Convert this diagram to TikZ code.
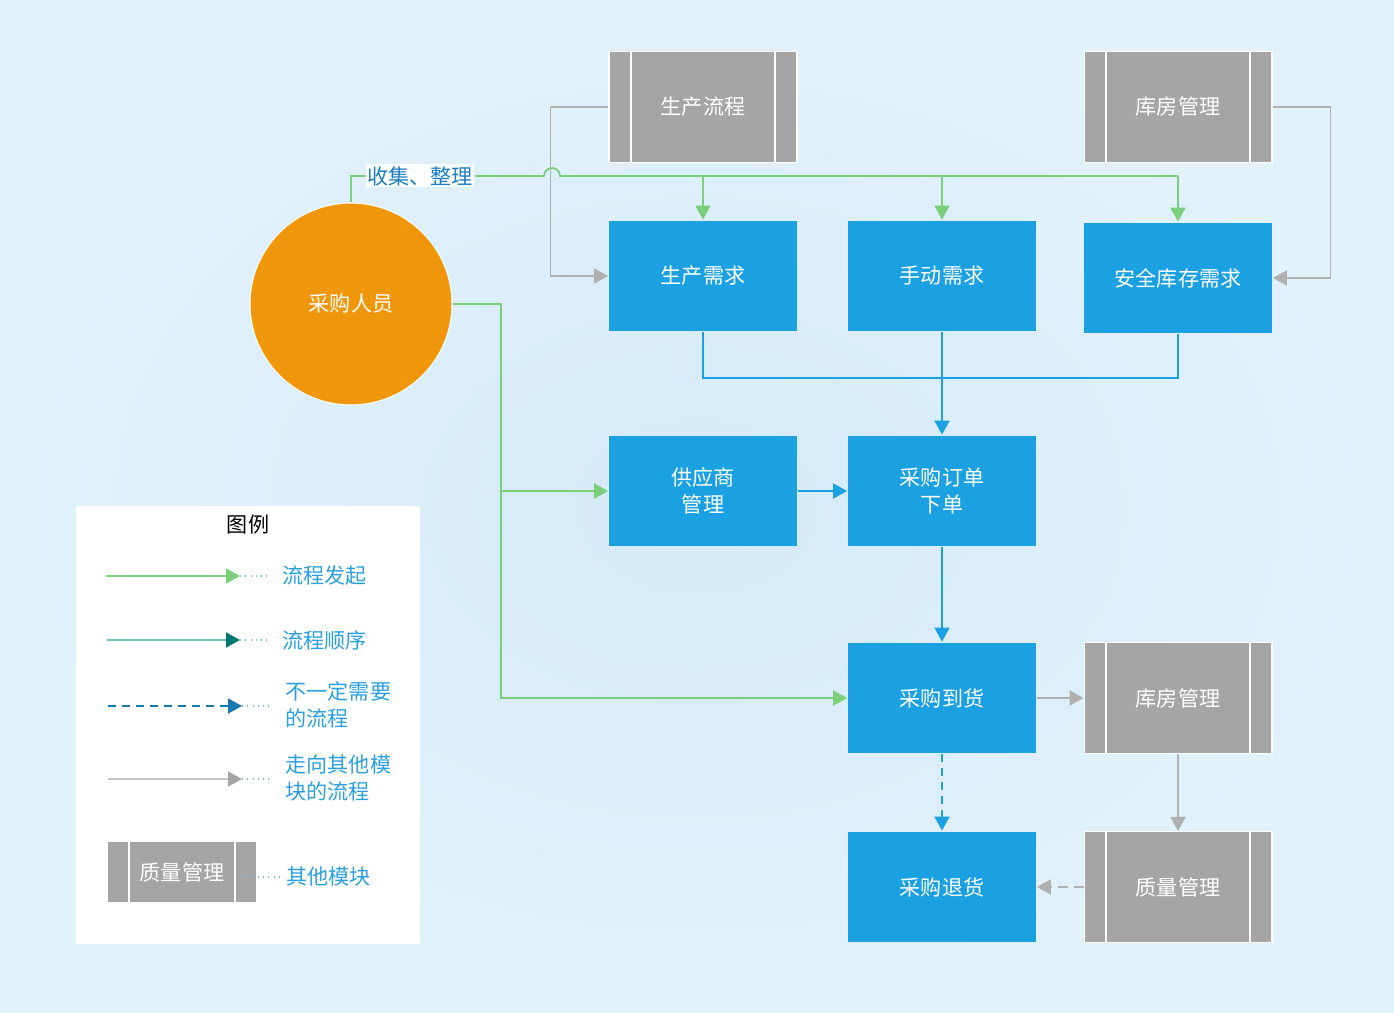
\documentclass[tikz,border=0pt]{standalone}
\usepackage{fontspec}
\setmainfont{Noto Sans CJK SC}
\usetikzlibrary{arrows.meta}
\usetikzlibrary{positioning}

\definecolor{bgin}{RGB}{212,233,247}
\definecolor{bgout}{RGB}{226,242,251}
\definecolor{boxblue}{RGB}{27,161,226}
\definecolor{modgray}{RGB}{165,165,165}
\definecolor{buyorange}{RGB}{240,150,10}
\definecolor{initgreen}{RGB}{122,208,122}
\definecolor{linegray}{RGB}{176,176,176}
\definecolor{labelblue}{RGB}{26,127,191}
\definecolor{legblue}{RGB}{42,160,224}
\definecolor{tealline}{RGB}{120,190,184}
\definecolor{tealtip}{RGB}{0,122,112}
\definecolor{dashblue}{RGB}{26,120,176}

\begin{document}
\begin{tikzpicture}[x=0.02cm, y=-0.02cm, line width=1pt,
    font=\fontsize{12}{15.5}\selectfont,
    >={Triangle[length=0.28cm,width=0.3cm]},
    procbox/.style={rectangle, fill=boxblue, text=white, align=center,
        minimum width=3.76cm, minimum height=2.22cm},
    modbox/.style={procbox, fill=modgray, draw=white, line width=0.6pt,
        path picture={\draw[white, line width=0.8pt]
            ([xshift=0.44cm]path picture bounding box.north west) -- ([xshift=0.44cm]path picture bounding box.south west)
            ([xshift=-0.44cm]path picture bounding box.north east) -- ([xshift=-0.44cm]path picture bounding box.south east);}},
    initline/.style={draw=initgreen, line width=1pt},
    seqline/.style={draw=boxblue, line width=1pt},
    optline/.style={draw=boxblue, line width=1pt, dash pattern=on 0.16cm off 0.12cm},
    modline/.style={draw=linegray, line width=1pt},
    legdot/.style={draw=legblue!70, line width=0.6pt, dash pattern=on 0.6pt off 2.4pt},
    legtext/.style={anchor=west, align=left, text=legblue}]

    \useasboundingbox (0,0) rectangle (1394,1013);
    \shade[inner color=bgin, outer color=bgout] (0,0) rectangle (1394,1013);

    % modules and steps
    \node (buyer) at (351,304) [circle, fill=buyorange, draw=white, line width=0.6pt, text=white, minimum size=4.04cm] {采购人员};
    \node (prodflow) at (703,107) [modbox] {生产流程};
    \node (storeA) at (1178,107) [modbox] {库房管理};
    \node (prodreq) at (703,276) [procbox] {生产需求};
    \node (manreq) at (942,276) [procbox] {手动需求};
    \node (safereq) at (1178,278) [procbox] {安全库存需求};
    \node (supplier) at (703,491) [procbox] {供应商\\管理};
    \node (order) at (942,491) [procbox] {采购订单\\下单};
    \node (arrive) at (942,698) [procbox] {采购到货};
    \node (storeB) at (1178,698) [modbox] {库房管理};
    \node (refund) at (942,887) [procbox] {采购退货};
    \node (quality) at (1178,887) [modbox] {质量管理};

    \coordinate (hop) at (544,176);
    \coordinate (merge) at (942,378);
    \coordinate (jgreen) at (501,491);

    % gray lines from other modules
    \draw[modline, ->] (prodflow.west) -- ++(-58,0) |- (prodreq.west);
    \draw[modline, ->] (storeA.east) -- ++(58,0) |- (safereq.east);

    % green lines
    \draw[initline] (buyer.north) |- (420,176);
    \node (collect) at (420,176) [fill=white, text=labelblue, inner sep=1pt] {收集、整理};
    \draw[initline] (collect.east) -- (hop) arc[start angle=180, end angle=0, radius=0.16cm] -- (safereq.north |- collect);
    \draw[initline, ->] (prodreq.north |- collect) -- (prodreq.north);
    \draw[initline, ->] (manreq.north |- collect) -- (manreq.north);
    \draw[initline, ->] (safereq.north |- collect) -- (safereq.north);
    \draw[initline] (buyer.east) -| (jgreen);
    \draw[initline, ->] (jgreen) -- (supplier.west);
    \draw[initline, ->] (jgreen) |- (arrive.west);

    % blue lines
    \draw[seqline] (prodreq.south) |- (merge) -| (safereq.south);
    \draw[seqline, ->] (manreq.south) -- (order.north);
    \draw[seqline, ->] (supplier) -- (order);
    \draw[seqline, ->] (order) -- (arrive);
    \draw[optline, ->] (arrive) -- (refund);
    \draw[modline, ->] (arrive) -- (storeB);
    \draw[modline, ->] (storeB) -- (quality);
    \draw[modline, dash pattern=on 0.2cm off 0.12cm, ->] (quality) -- (refund);

    % legend
    \node (legend) at (248,725) [fill=white, minimum width=6.88cm, minimum height=8.76cm] {};
    \node (legtitle) at (248,525) {图例};

    \coordinate (a0) at (106,576); \coordinate (a1) at (240,576); \coordinate (a2) at (268,576);
    \node (la) at (276,576) [legtext] {流程发起};
    \draw[initline, ->] (a0) -- (a1);
    \draw[legdot] (a1) -- (a2);

    \coordinate (b0) at (107,640); \coordinate (b1) at (240,640); \coordinate (b2) at (268,640);
    \node (lb) at (276,640) [legtext] {流程顺序};
    \draw[draw=tealline, -{Triangle[length=0.28cm,width=0.3cm,color=tealtip]}] (b0) -- (b1);
    \draw[legdot] (b1) -- (b2);

    \coordinate (c0) at (108,706); \coordinate (c1) at (242,706); \coordinate (c2) at (270,706);
    \node (lc) at (279,705) [legtext] {不一定需要\\的流程};
    \draw[optline, draw=dashblue, ->] (c0) -- (c1);
    \draw[legdot] (c1) -- (c2);

    \coordinate (d0) at (108,779); \coordinate (d1) at (242,779); \coordinate (d2) at (270,779);
    \node (ld) at (279,778) [legtext] {走向其他模\\块的流程};
    \draw[draw=linegray!70, -{Triangle[length=0.28cm,width=0.3cm,color=modgray]}] (d0) -- (d1);
    \draw[legdot] (d1) -- (d2);

    \node (lmod) at (182,872) [modbox, minimum width=3cm, minimum height=1.22cm] {质量管理};
    \node (le) at (280,877) [legtext] {其他模块};
    \draw[legdot] (242,877) -- (le.west);

\end{tikzpicture}
\end{document}
